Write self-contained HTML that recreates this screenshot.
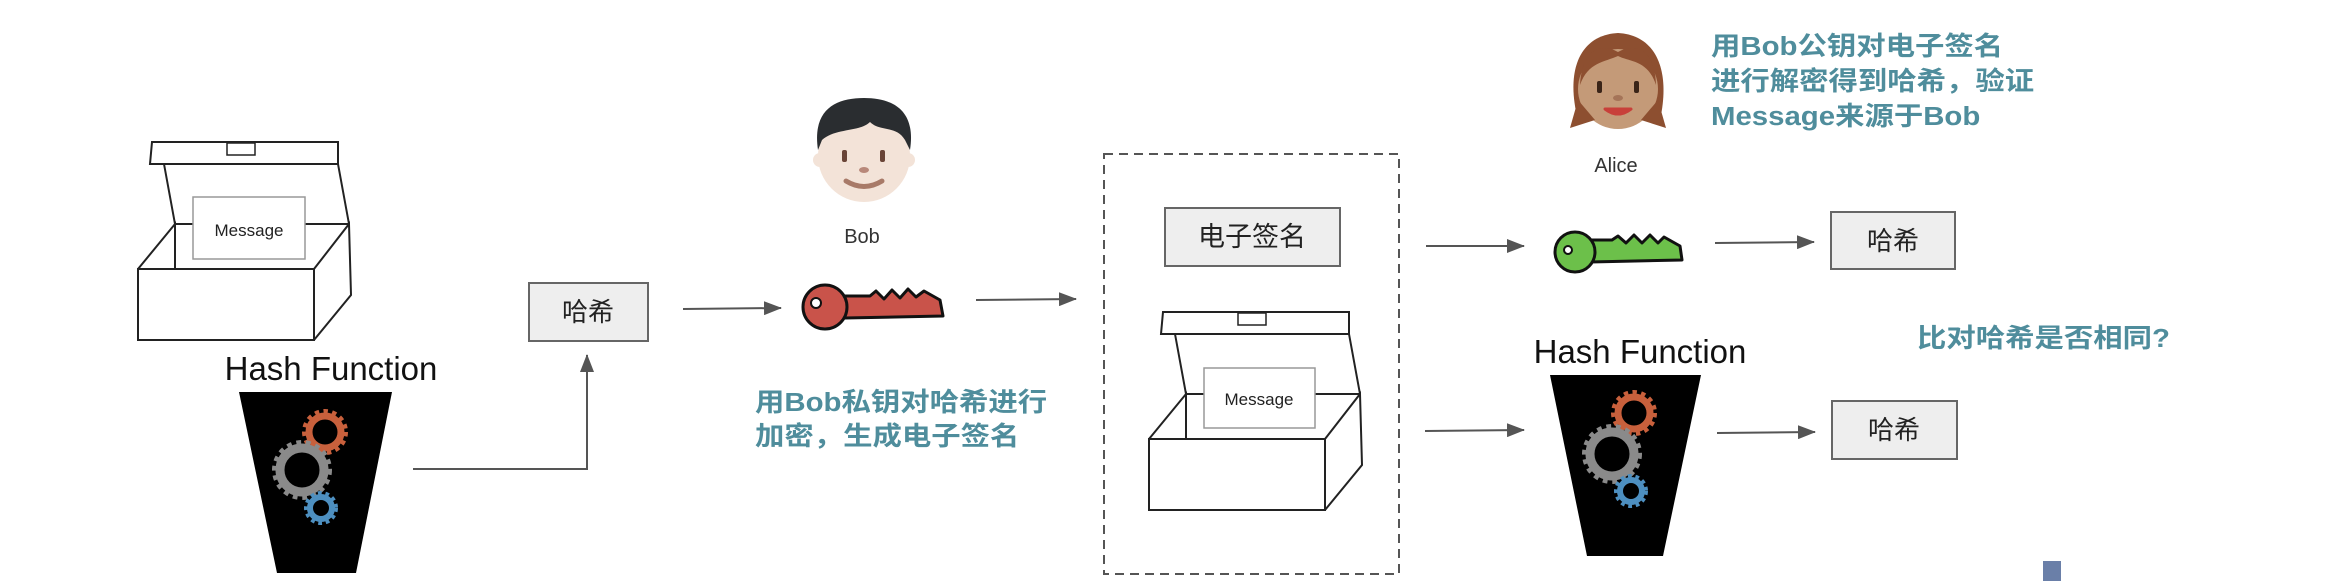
<!DOCTYPE html>
<html><head><meta charset="utf-8">
<style>
html,body{margin:0;padding:0;background:#fff;}
svg{display:block;}
.cn{font-family:"Liberation Sans","Noto Sans CJK SC",sans-serif;}
.teal{fill:#4f8d9c;font-weight:bold;font-size:26px;}
</style></head>
<body>
<svg width="2332" height="586" viewBox="0 0 2332 586" xmlns="http://www.w3.org/2000/svg">
<defs>
<marker id="ah" markerWidth="18" markerHeight="14" refX="17" refY="7" orient="auto" markerUnits="userSpaceOnUse">
<path d="M0,0 L18,7 L0,14 Z" fill="#555"/>
</marker>
<g id="gearO"><circle r="19" fill="none" stroke="#c8603c" stroke-width="8" stroke-dasharray="4 4"/><circle r="16" fill="none" stroke="#c8603c" stroke-width="7"/></g>
<g id="gearG"><circle r="26" fill="none" stroke="#8a8a8a" stroke-width="8" stroke-dasharray="4.5 4.5"/><circle r="22" fill="none" stroke="#8a8a8a" stroke-width="9"/></g>
<g id="gearB"><circle r="14" fill="none" stroke="#4d8fc0" stroke-width="6" stroke-dasharray="3.5 3.5"/><circle r="11" fill="none" stroke="#4d8fc0" stroke-width="6"/></g>
<g id="boxback" fill="none" stroke="#222" stroke-width="2">
 <path d="M26,22 L37,82 M200,22 L211,82 M37,82 L211,82"/>
 <path d="M14,0 L200,0 L200,22 L12,22 Z" fill="#fff"/>
 <rect x="89" y="1" width="28" height="12" fill="#fff" stroke-width="1.5"/>
</g>
<g id="boxfront" fill="none" stroke="#222" stroke-width="2">
 <path d="M0,127 L37,82 L37,127 M176,127 L211,82 L213,153 L176,198"/>
 <rect x="0" y="127" width="176" height="71" fill="#fff"/>
</g>
</defs>

<!-- Left box -->
<g transform="translate(138,142)"><use href="#boxback"/></g>
<rect x="193" y="197" width="112" height="62" fill="#fff" stroke="#999" stroke-width="1.5"/>
<text x="249" y="236" text-anchor="middle" class="cn" font-size="17" fill="#222">Message</text>
<g transform="translate(138,142)"><use href="#boxfront"/></g>

<text x="331" y="380" text-anchor="middle" class="cn" font-size="33" fill="#111">Hash Function</text>
<path d="M239,392 L392,392 L356,573 L277,573 Z" fill="#000"/>
<use href="#gearO" x="325" y="432"/>
<use href="#gearG" x="302" y="470"/>
<use href="#gearB" x="321" y="508"/>

<!-- connector up -->
<path d="M413,469 L587,469 L587,355" fill="none" stroke="#555" stroke-width="2" marker-end="url(#ah)"/>

<!-- hash box 1 -->
<rect x="529" y="283" width="119" height="58" fill="#eee" stroke="#666" stroke-width="2"/>
<text x="588" y="321" text-anchor="middle" class="cn" font-size="26" fill="#222">哈希</text>
<line x1="683" y1="309" x2="781" y2="308" stroke="#555" stroke-width="2" marker-end="url(#ah)"/>

<!-- Bob -->
<circle cx="864" cy="156" r="46" fill="#f3e3d8"/>
<circle cx="820" cy="160" r="7" fill="#f3e3d8"/>
<circle cx="908" cy="160" r="7" fill="#f3e3d8"/>
<path d="M818,150 C812,110 835,98 864,98 C895,98 916,112 910,150 L905,140 C896,125 880,132 870,122 C860,132 835,128 822,140 Z" fill="#2a2d30"/>
<rect x="842" y="150" width="5" height="12" rx="2" fill="#6a4538"/>
<rect x="880" y="150" width="5" height="12" rx="2" fill="#6a4538"/>
<ellipse cx="864" cy="170" rx="5" ry="3" fill="#b8887a"/>
<path d="M846,181 Q864,192 882,181" fill="none" stroke="#a87a68" stroke-width="5" stroke-linecap="round"/>
<text x="862" y="243" text-anchor="middle" class="cn" font-size="20" fill="#333">Bob</text>

<!-- red key -->
<g>
<path d="M845,296 L870,296 L876,291 L884,299 L892,290 L900,298 L908,289 L916,297 L924,291 L940,300 L943,316 L845,318 Z" fill="#c9534a" stroke="#111" stroke-width="3" stroke-linejoin="round"/>
<circle cx="825" cy="307" r="22" fill="#c9534a" stroke="#111" stroke-width="3"/>
<circle cx="816" cy="303" r="5" fill="#fff" stroke="#111" stroke-width="2"/>
</g>
<line x1="976" y1="300" x2="1076" y2="299" stroke="#555" stroke-width="2" marker-end="url(#ah)"/>

<text class="cn teal" transform="translate(755,411) scale(1.13,1)">用Bob私钥对哈希进行</text>
<text class="cn teal" transform="translate(755,445) scale(1.13,1)">加密，生成电子签名</text>

<!-- dashed box -->
<rect x="1104" y="154" width="295" height="420" fill="none" stroke="#555" stroke-width="2" stroke-dasharray="9 6"/>
<rect x="1165" y="208" width="175" height="58" fill="#eee" stroke="#666" stroke-width="2"/>
<text x="1252" y="246" text-anchor="middle" class="cn" font-size="27" fill="#222">电子签名</text>
<g transform="translate(1149,312)"><use href="#boxback"/></g>
<rect x="1204" y="368" width="111" height="60" fill="#fff" stroke="#999" stroke-width="1.5"/>
<text x="1259" y="405" text-anchor="middle" class="cn" font-size="17" fill="#222">Message</text>
<g transform="translate(1149,312)"><use href="#boxfront"/></g>

<!-- right side -->
<line x1="1426" y1="246" x2="1524" y2="246" stroke="#555" stroke-width="2" marker-end="url(#ah)"/>
<line x1="1425" y1="431" x2="1524" y2="430" stroke="#555" stroke-width="2" marker-end="url(#ah)"/>

<!-- Alice -->
<path d="M1578,120 C1565,70 1580,35 1618,33 C1656,35 1671,70 1660,120 Z" fill="#8d4f30"/>
<circle cx="1618" cy="89" r="40" fill="#c49a78"/>
<path d="M1580,85 C1582,50 1600,42 1618,52 C1636,42 1655,50 1656,85 C1648,60 1630,62 1618,56 C1605,62 1588,62 1580,85 Z" fill="#8d4f30"/>
<path d="M1578,100 L1570,128 L1595,120 Z M1658,100 L1666,128 L1641,120 Z" fill="#8d4f30"/>
<rect x="1597" y="81" width="5" height="12" rx="2" fill="#3a2418"/>
<rect x="1634" y="81" width="5" height="12" rx="2" fill="#3a2418"/>
<ellipse cx="1618" cy="98" rx="5" ry="3" fill="#a57458"/>
<path d="M1605,109 Q1618,119 1631,109 Z" fill="#c8403a" stroke="#c8403a" stroke-width="3" stroke-linejoin="round"/>
<text x="1616" y="172" text-anchor="middle" class="cn" font-size="20" fill="#333">Alice</text>

<text class="cn teal" transform="translate(1711,55) scale(1.13,1)">用Bob公钥对电子签名</text>
<text class="cn teal" transform="translate(1711,90) scale(1.13,1)">进行解密得到哈希，验证</text>
<text class="cn teal" transform="translate(1711,125) scale(1.13,1)">Message来源于Bob</text>

<!-- green key -->
<g>
<path d="M1590,240 L1612,240 L1618,236 L1626,243 L1634,235 L1642,243 L1650,235 L1658,243 L1664,237 L1680,246 L1682,260 L1590,262 Z" fill="#6cc04a" stroke="#111" stroke-width="3" stroke-linejoin="round"/>
<circle cx="1575" cy="252" r="20" fill="#6cc04a" stroke="#111" stroke-width="3"/>
<circle cx="1568" cy="250" r="4" fill="#fff" stroke="#111" stroke-width="2"/>
</g>
<line x1="1715" y1="243" x2="1814" y2="242" stroke="#555" stroke-width="2" marker-end="url(#ah)"/>
<rect x="1831" y="212" width="124" height="57" fill="#eee" stroke="#666" stroke-width="2"/>
<text x="1893" y="250" text-anchor="middle" class="cn" font-size="26" fill="#222">哈希</text>

<text class="cn teal" transform="translate(1917,347) scale(1.13,1)">比对哈希是否相同?</text>

<text x="1640" y="363" text-anchor="middle" class="cn" font-size="33" fill="#111">Hash Function</text>
<path d="M1550,375 L1701,375 L1663,556 L1587,556 Z" fill="#000"/>
<use href="#gearO" x="1634" y="413"/>
<use href="#gearG" x="1612" y="454"/>
<use href="#gearB" x="1631" y="491"/>

<line x1="1717" y1="433" x2="1815" y2="432" stroke="#555" stroke-width="2" marker-end="url(#ah)"/>
<rect x="1832" y="401" width="125" height="58" fill="#eee" stroke="#666" stroke-width="2"/>
<text x="1894" y="439" text-anchor="middle" class="cn" font-size="26" fill="#222">哈希</text>

<rect x="2043" y="561" width="18" height="20" fill="#6a7fa8"/>
</svg>
</body></html>
